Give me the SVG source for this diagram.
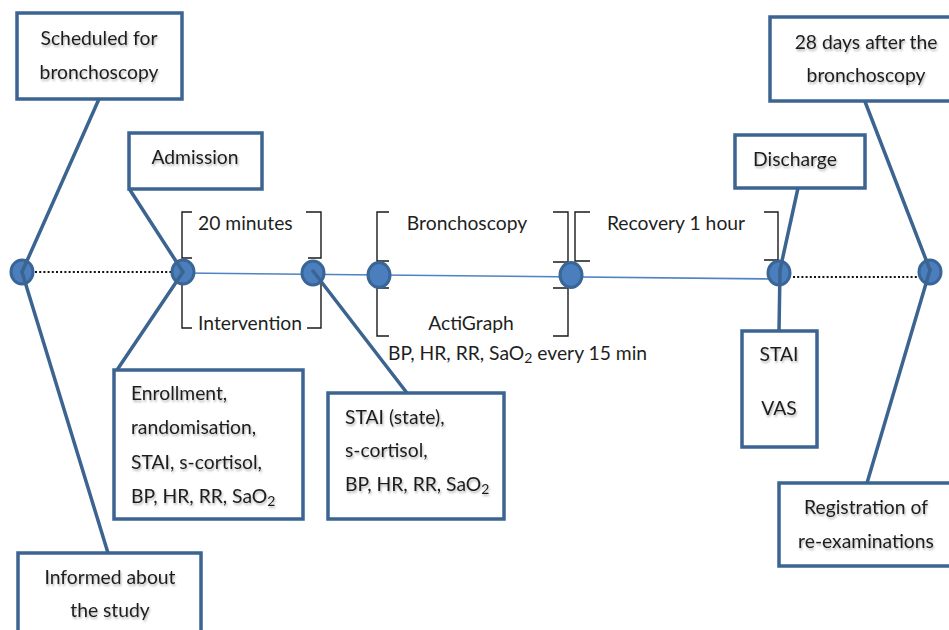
<svg xmlns="http://www.w3.org/2000/svg" width="949" height="630" viewBox="0 0 949 630">
  <defs>
    <filter id="ts" x="-10%" y="-30%" width="120%" height="160%">
      <feGaussianBlur in="SourceAlpha" stdDeviation="1.2"/>
      <feOffset dx="1" dy="1.5" result="b"/>
      <feComponentTransfer><feFuncA type="linear" slope="0.3"/></feComponentTransfer>
      <feMerge><feMergeNode/><feMergeNode in="SourceGraphic"/></feMerge>
    </filter>
  </defs>
  <style>
    .box { fill: #ffffff; stroke: #3B6491; stroke-width: 3.5; }
    .t { font-family: Lato, "Open Sans", "Liberation Sans", sans-serif; font-size: 19.3px; fill: #1f1f1f; }
    .c { text-anchor: middle; }
    .sh { filter: url(#ts); }
    .conn { stroke: #3B6491; stroke-width: 3.5; fill: none; stroke-linecap: round; }
    .tl { stroke: #4F83C2; stroke-width: 1.6; fill: none; }
    .dot { stroke: #111; stroke-width: 2; stroke-dasharray: 2 2.2; fill: none; }
    .node { fill: #4B7EBC; stroke: #3A6597; stroke-width: 3; }
    .br { stroke: #1a1a1a; stroke-width: 1.4; fill: none; }
  </style>
  <rect width="949" height="630" fill="#ffffff"/>

  <!-- timeline -->
  <g id="timeline">
    <line class="dot" x1="35" y1="272" x2="171" y2="272"/>
    <line class="tl" x1="183" y1="273" x2="779" y2="279"/>
    <line class="dot" x1="793" y1="277" x2="918" y2="277"/>
  </g>

  <!-- brackets and timeline labels -->
  <g id="brackets">
    <polyline class="br" points="192,212 182,212 182,258 192,258"/>
    <polyline class="br" points="306,212 321,212 321,258 308,258"/>
    <text class="t" x="198" y="230">20 minutes</text>
    <polyline class="br" points="192,280 182,280 182,328 192,328"/>
    <polyline class="br" points="308,277 321,277 321,328 307,328"/>
    <text class="t" x="198" y="330">Intervention</text>

    <polyline class="br" points="389,212 377,212 377,261 389,261"/>
    <polyline class="br" points="553,212 568,212 568,262 553,262"/>
    <text class="t c" x="467" y="230">Bronchoscopy</text>
    <polyline class="br" points="389,288 377,288 377,336 389,336"/>
    <polyline class="br" points="553,288 568,288 568,336 553,336"/>
    <text class="t c" x="471" y="330">ActiGraph</text>

    <polyline class="br" points="590,212 575,212 575,261 590,261"/>
    <polyline class="br" points="764,212 778,212 778,260 764,260"/>
    <text class="t c" x="676" y="230">Recovery 1 hour</text>

    <text class="t" x="388" y="360">BP, HR, RR, SaO<tspan font-size="14" dy="3">2</tspan><tspan dy="-3"> every 15 min</tspan></text>
  </g>

  <!-- timeline nodes -->
  <g id="n1"><ellipse class="node" cx="22" cy="272" rx="11" ry="12"/></g>
  <g id="n2"><ellipse class="node" cx="183" cy="272" rx="11" ry="12"/></g>
  <g id="n3"><ellipse class="node" cx="313" cy="273" rx="11" ry="12"/></g>
  <g id="n4"><ellipse class="node" cx="379" cy="275" rx="11" ry="12.5"/></g>
  <g id="n5"><ellipse class="node" cx="571" cy="275" rx="11" ry="12.5"/></g>
  <g id="n6"><ellipse class="node" cx="779" cy="273" rx="11" ry="12"/></g>
  <g id="n7"><ellipse class="node" cx="930" cy="272" rx="11" ry="12"/></g>

  <!-- connectors -->
  <g id="connectors">
    <line class="conn" x1="99" y1="99" x2="22" y2="272"/>
    <line class="conn" x1="22" y1="272" x2="108" y2="553"/>
    <line class="conn" x1="130" y1="190" x2="183" y2="272"/>
    <line class="conn" x1="183" y1="272" x2="117" y2="370"/>
    <line class="conn" x1="313" y1="271" x2="407" y2="393"/>
    <line class="conn" x1="798" y1="188" x2="780" y2="270"/>
    <line class="conn" x1="780" y1="270" x2="779" y2="331"/>
    <line class="conn" x1="864" y1="99" x2="930" y2="270"/>
    <line class="conn" x1="930" y1="270" x2="867" y2="483"/>
  </g>

  <!-- boxes -->
  <g id="scheduled">
    <rect class="box" x="17" y="13" width="165" height="86"/>
    <text class="t c sh" x="99" y="45">Scheduled for</text>
    <text class="t c sh" x="99" y="79">bronchoscopy</text>
  </g>
  <g id="informed">
    <rect class="box" x="18" y="553" width="183" height="90"/>
    <text class="t c sh" x="110" y="584">Informed about</text>
    <text class="t c sh" x="110" y="617">the study</text>
  </g>
  <g id="admission">
    <rect class="box" x="129" y="133" width="133" height="56"/>
    <text class="t c sh" x="195" y="164">Admission</text>
  </g>
  <g id="enrollment">
    <rect class="box" x="114" y="370" width="189" height="149"/>
    <text class="t sh" x="131" y="400">Enrollment,</text>
    <text class="t sh" x="131" y="434">randomisation,</text>
    <text class="t sh" x="131" y="469">STAI, s-cortisol,</text>
    <text class="t sh" x="131" y="503">BP, HR, RR, SaO<tspan font-size="14" dy="3">2</tspan></text>
  </g>
  <g id="stai-state">
    <rect class="box" x="328" y="393" width="176" height="126"/>
    <text class="t sh" x="345" y="424">STAI (state),</text>
    <text class="t sh" x="345" y="457">s-cortisol,</text>
    <text class="t sh" x="345" y="491">BP, HR, RR, SaO<tspan font-size="14" dy="3">2</tspan></text>
  </g>
  <g id="discharge">
    <rect class="box" x="735" y="135" width="130" height="53"/>
    <text class="t c sh" x="795" y="166">Discharge</text>
  </g>
  <g id="stai-vas">
    <rect class="box" x="742" y="331" width="75" height="116"/>
    <text class="t c sh" x="779" y="361">STAI</text>
    <text class="t c sh" x="779" y="415">VAS</text>
  </g>
  <g id="days28">
    <rect class="box" x="770" y="17" width="190" height="84"/>
    <text class="t c sh" x="866" y="49">28 days after the</text>
    <text class="t c sh" x="866" y="82">bronchoscopy</text>
  </g>
  <g id="registration">
    <rect class="box" x="779" y="483" width="180" height="83"/>
    <text class="t c sh" x="866" y="514">Registration of</text>
    <text class="t c sh" x="866" y="548">re-examinations</text>
  </g>
</svg>
